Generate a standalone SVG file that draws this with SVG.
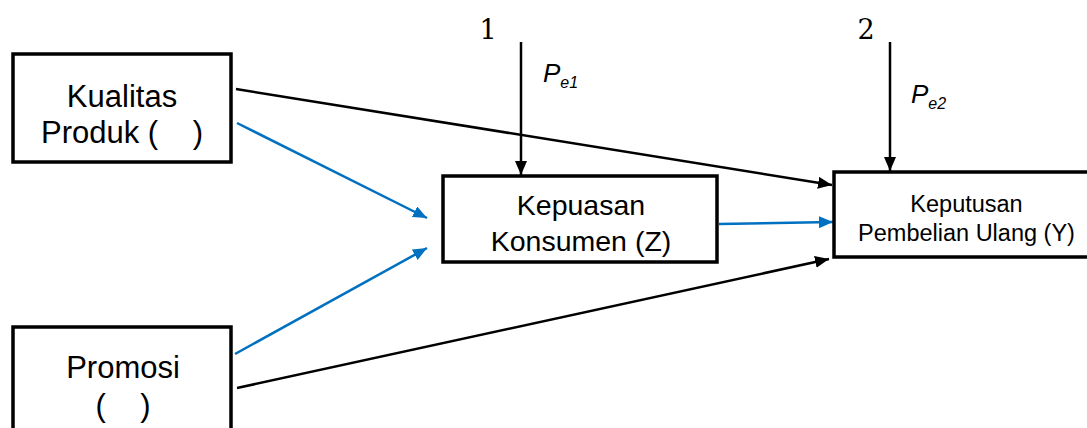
<svg xmlns="http://www.w3.org/2000/svg" width="1087" height="428" viewBox="0 0 1087 428">
<style>
.box{fill:#fff;stroke:#000;stroke-width:3.5}
.t{font-family:"Liberation Sans",Arial,sans-serif;fill:#000;text-anchor:middle}
.big{font-size:31px}
.mid{font-size:28.5px}
.small{font-size:23.5px}
.num{font-family:"DejaVu Serif","Liberation Serif",serif;font-size:27px;fill:#000;text-anchor:middle}
.pe{font-family:"Liberation Sans",Arial,sans-serif;font-style:italic;fill:#000}
.k{stroke:#000;stroke-width:2.5;fill:none}
.b{stroke:#0070C0;stroke-width:2.5;fill:none}
</style>
<defs>
<marker id="ak" viewBox="0 0 14 12" refX="14" refY="6" markerWidth="14" markerHeight="12" markerUnits="userSpaceOnUse" orient="auto"><path d="M0,0 L14,6 L0,12 Z" fill="#000"/></marker>
<marker id="ab" viewBox="0 0 14 12" refX="14" refY="6" markerWidth="14" markerHeight="12" markerUnits="userSpaceOnUse" orient="auto"><path d="M0,0 L14,6 L0,12 Z" fill="#0070C0"/></marker>
</defs>
<g id="connectors">
<line class="k" x1="236" y1="89" x2="832" y2="185" marker-end="url(#ak)"/>
<line class="b" x1="237" y1="123" x2="427" y2="218" marker-end="url(#ab)"/>
<line class="b" x1="235" y1="354" x2="427" y2="248" marker-end="url(#ab)"/>
<line class="k" x1="237" y1="388" x2="829" y2="259" marker-end="url(#ak)"/>
<line class="b" x1="719" y1="224" x2="833" y2="222" marker-end="url(#ab)"/>
<line class="k" x1="521" y1="42" x2="521" y2="175" marker-end="url(#ak)"/>
<line class="k" x1="890" y1="42" x2="890" y2="171" marker-end="url(#ak)"/>
</g>
<g id="kualitas">
<rect class="box" x="13" y="54" width="218" height="108"/>
<text class="t big" x="122" y="107">Kualitas</text>
<text class="t big" x="122" y="143" xml:space="preserve">Produk (    )</text>
</g>
<g id="promosi">
<rect class="box" x="13" y="327" width="218" height="120"/>
<text class="t big" x="123" y="378">Promosi</text>
<text class="t big" x="123" y="416" xml:space="preserve">(    )</text>
</g>
<g id="kepuasan">
<rect class="box" x="443" y="176" width="274" height="86"/>
<text class="t mid" x="581" y="215">Kepuasan</text>
<text class="t mid" x="581" y="251">Konsumen (Z)</text>
</g>
<g id="keputusan">
<rect class="box" x="834" y="172" width="260" height="85"/>
<text class="t small" x="966.5" y="212">Keputusan</text>
<text class="t small" x="966.5" y="241">Pembelian Ulang (Y)</text>
</g>
<g id="labels">
<text class="num" x="488" y="39">1</text>
<text class="num" x="866" y="39">2</text>
<text class="pe" x="543" y="82" font-size="26">P<tspan font-size="16" dy="6">e1</tspan></text>
<text class="pe" x="911" y="103" font-size="26">P<tspan font-size="16" dy="6">e2</tspan></text>
</g>
</svg>
